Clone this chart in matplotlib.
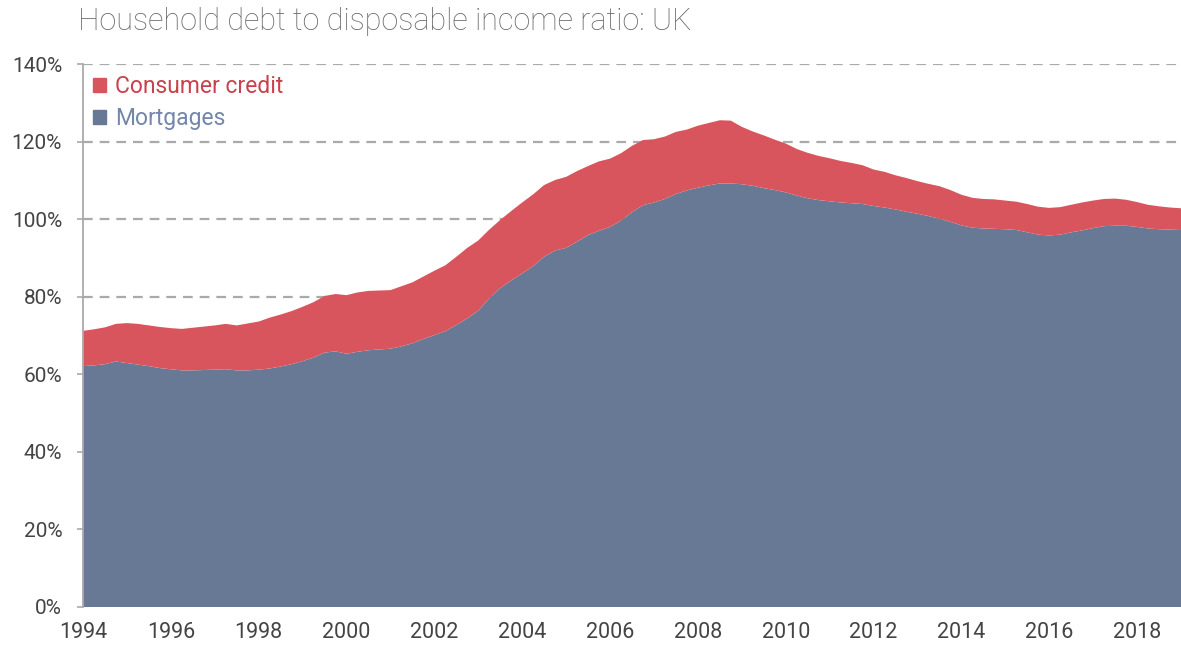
import numpy as np
import matplotlib
matplotlib.use("Agg")
from matplotlib import pyplot as plt
from matplotlib.patches import Patch
from matplotlib.ticker import FuncFormatter

# quarterly, 1994 Q1 onwards (% of disposable income)
start_year = 1994
mortgages = [
    62.1, 62.3, 62.6, 63.3, 62.9, 62.5, 62.1, 61.6, 61.3, 61.0,
    61.0, 61.1, 61.2, 61.3, 61.0, 61.0, 61.2, 61.5, 62.0, 62.6,
    63.4, 64.3, 65.6, 65.9, 65.3, 65.8, 66.2, 66.4, 66.6, 67.2,
    68.0, 69.1, 70.1, 71.1, 72.7, 74.4, 76.4, 79.6, 82.2, 84.2,
    86.0, 87.9, 90.3, 91.9, 92.6, 94.2, 95.9, 97.0, 98.0, 99.6,
    101.8, 103.6, 104.3, 105.2, 106.5, 107.4, 108.1, 108.7, 109.2, 109.2,
    109.0, 108.6, 108.0, 107.5, 106.9, 106.1, 105.4, 104.9, 104.6, 104.3,
    104.1, 103.9, 103.4, 103.0, 102.5, 101.9, 101.4, 100.8, 100.1, 99.3,
    98.4, 97.8, 97.6, 97.5, 97.4, 97.2, 96.6, 96.0, 95.8, 96.0,
    96.6, 97.1, 97.7, 98.2, 98.3, 98.3, 98.0, 97.6, 97.4, 97.3,
    97.2,
]
consumer_credit = [
    9.1, 9.3, 9.5, 9.7, 10.3, 10.5, 10.5, 10.6, 10.6, 10.7,
    11.0, 11.2, 11.4, 11.7, 11.6, 12.1, 12.4, 13.1, 13.4, 13.7,
    14.0, 14.3, 14.6, 14.8, 15.1, 15.3, 15.3, 15.2, 15.1, 15.5,
    15.7, 16.1, 16.6, 17.0, 17.6, 18.2, 18.1, 17.7, 17.6, 17.9,
    18.3, 18.5, 18.5, 18.2, 18.3, 18.2, 17.8, 17.9, 17.6, 17.4,
    17.1, 16.8, 16.3, 16.1, 16.0, 15.7, 16.0, 16.1, 16.3, 16.2,
    14.8, 14.0, 13.6, 13.0, 12.6, 12.0, 11.7, 11.4, 11.1, 10.7,
    10.4, 10.0, 9.4, 9.2, 8.8, 8.7, 8.4, 8.3, 8.4, 8.2,
    7.9, 7.7, 7.6, 7.6, 7.4, 7.3, 7.3, 7.2, 7.1, 7.1,
    7.1, 7.2, 7.1, 7.0, 7.0, 6.7, 6.4, 6.1, 5.9, 5.7,
    5.6,
]
year_ticks = list(range(1994, 2019, 2))
pct_ticks = list(range(0, 141, 20))

col_mort = "#687996"
col_cc = "#d9555e"
grey = "#aaaaaa"

plt.rcParams["font.family"] = ["Roboto", "DejaVu Sans"]
plt.rcParams["lines.scale_dashes"] = False

t = start_year + np.arange(len(mortgages)) / 4.0

fig = plt.figure(figsize=(11.81, 6.46), dpi=100)
ax = fig.add_axes([83 / 1181, 39 / 646, 1 - 83 / 1181, 543 / 646])

ax.stackplot(t, mortgages, consumer_credit, colors=[col_mort, col_cc],
             linewidth=0, zorder=2)

ax.set_xlim(t[0], t[-1])
ax.set_ylim(0, 140)
ax.set_xticks(year_ticks)
ax.set_yticks(pct_ticks)
ax.yaxis.set_major_formatter(FuncFormatter(lambda v, p: "%d%%" % v))

ax.grid(axis="y", color=grey, linewidth=1.6, dashes=(7, 5), zorder=0)
ax.set_axisbelow(True)

for s in ["top", "right", "bottom"]:
    ax.spines[s].set_visible(False)
ax.spines["left"].set_color(grey)
ax.spines["left"].set_linewidth(1.3)

ax.tick_params(axis="y", length=4, width=1.2, color=grey, pad=11,
               labelsize=15, labelcolor="#444444")
ax.tick_params(axis="x", length=0, pad=11, labelsize=15.5, labelcolor="#444444")

handles = [Patch(color=col_cc), Patch(color=col_mort)]
ax.legend(handles, ["Consumer credit", "Mortgages"], loc="upper left",
          bbox_to_anchor=(0.0, 0.998), frameon=False, fontsize=16.5,
          handlelength=0.55, handleheight=0.55, handletextpad=0.4,
          labelspacing=0.38, borderaxespad=0.15, borderpad=0.3,
          labelcolor=["#c9414c", "#7487ab"])

fig.text(78 / 1181, 1 - 22 / 646, "Household debt to disposable income ratio: UK",
         fontsize=22, color="#686868", va="center", ha="left", weight="light")

fig.savefig("out.png", dpi=100)
